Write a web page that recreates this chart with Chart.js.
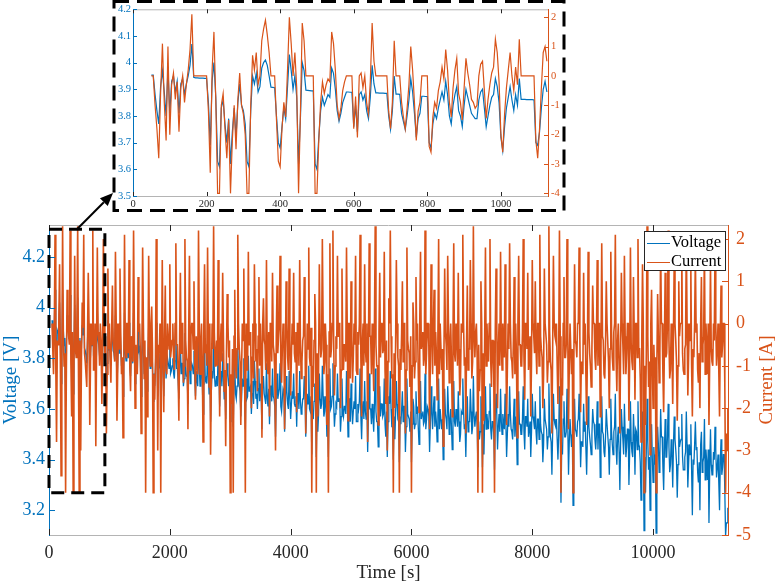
<!DOCTYPE html>
<html>
<head>
<meta charset="utf-8">
<script src="https://cdn.jsdelivr.net/npm/chart.js@4.4.0/dist/chart.umd.min.js"></script>
<style>
  html, body { margin: 0; padding: 0; background: #fff; }
  #wrap { position: relative; width: 778px; height: 585px; }
  #main { position: absolute; left: 0; top: 0; }
  #inset { position: absolute; left: 105px; top: 0; }
</style>
</head>
<body>
<div id="wrap">
  <canvas id="main" width="778" height="585"></canvas>
  <canvas id="inset" width="470" height="215"></canvas>
</div>
<script>
// full test: samples every 25 s from 50 s, plus the samples half way between them
const mainStart = 50, mainStep = 25;
const mainCurrent = [
  0,-1.2,2.1,-2.8,-0.5,1.4,-3.6,2.3,-1.0,-4.0,0.8,-0.3,2.2,-2.2,-4.0,1.6,-0.8,2.3,-4.0,-3.0,0.5,2.1,-0.9,-1.5,1.2,-2.4,0,2.2,-1.1,-2.9,1.8,-0.4,0,-1.9,2.0,-0.7,-2.6,1.3,0,-1.4,
  0.9,-0.6,1.7,-2.3,0,1.3,-1.2,-2.7,2.1,-0.8,0,1.5,-1.6,-0.4,2.2,-2.0,-0.9,1.1,0,-2.6,1.8,-1.3,-4.0,-2.2,1.6,-1.0,0.4,-4.0,-1.8,2.0,-3.0,-0.7,-4.0,1.5,-2.1,0.9,-1.2,-0.3,1.4,-0.6,
  0,-1.1,1.9,-0.5,-2.3,1.2,0,-1.4,2.0,-0.8,-2.5,1.6,-0.3,0,1.0,-1.8,-0.9,2.2,-1.2,0,-2.8,1.4,-0.6,1.8,-1.5,-3.1,0,2.3,-1.0,-0.4,1.5,-2.2,0,1.2,-1.6,-2.9,0.7,-0.8,-4.0,-1.9,
  -4.0,0.8,-1.3,2.1,-0.6,-2.4,0,1.3,-4.0,-1.1,1.7,-0.4,-2.0,0,1.4,-0.9,-1.6,1.1,0,-2.7,0.6,-0.5,1.5,-1.2,-2.2,0,1.2,-0.7,-3.0,0.9,-0.3,1.6,-1.4,0,-2.5,1.0,-0.8,1.3,-1.7,0,
  1.2,-0.9,-2.1,0,1.5,-1.3,-0.4,1.1,-2.6,0,1.8,-1.0,-4.0,-1.5,0.7,-4.0,-2.2,1.4,-0.8,2.0,-1.2,0,-2.4,-4.0,1.9,-0.6,2.2,-1.7,-0.3,1.6,0,-2.0,1.3,-1.1,-0.5,1.8,-2.3,0,1.0,-1.4,
  0,1.6,-1.2,-0.5,2.1,-2.2,0,1.4,-0.9,-2.8,1.9,-0.3,0,-1.6,2.3,-1.0,-2.4,1.2,0,-0.7,1.7,-1.9,-3.0,0.6,2.2,-1.3,-4.0,-2.0,1.5,-0.8,-4.0,-1.1,1.0,0,-2.6,1.8,-0.6,-1.5,-4.0,0.5,
  -1.3,1.1,0,-2.1,1.7,-0.4,-1.0,2.2,-0.7,0,-2.5,1.4,-1.2,0.8,-0.2,-1.8,2.0,0,-1.1,-2.9,1.3,-0.5,1.6,-1.4,0,-2.2,1.9,-0.9,-0.3,1.2,-1.7,0,2.1,-1.0,-2.6,0.9,-0.6,1.5,-1.3,2.3,
  -0.8,0,-4.0,-1.6,1.0,-4.0,-2.3,1.8,0,-0.9,2.0,-1.5,-0.4,-4.0,1.3,-2.0,0,1.7,-1.1,-0.6,1.4,-2.4,0,1.9,-0.8,-1.3,1.1,0,-2.7,1.6,-0.5,-1.0,2.0,-1.8,0,1.2,-0.7,-2.2,1.5,-0.3,
  1.0,-1.2,0,2.1,-0.6,-2.0,1.3,0,-1.4,2.3,-0.9,-2.6,1.6,-0.3,0,-1.9,2.2,-4.0,-1.7,1.1,-0.8,2.0,-2.5,0,-1.2,-4.0,1.4,-0.5,0,1.8,-2.1,-1.0,1.2,0,-2.4,1.7,-0.7,-1.5,0.9,0,
  -1.1,1.5,0,-2.2,1.9,-0.4,-1.3,1.0,0,-2.0,1.7,-0.8,-0.2,2.1,-1.6,0,-2.6,1.2,-0.5,1.6,-1.2,0,-2.3,1.8,-0.9,1.1,-1.8,0,2.0,-0.6,-2.8,1.4,-4.0,-2.4,2.3,-1.5,-3.1,0.8,-2.0,-1.2,
  -4.0,0.7,-1.4,1.9,0,-2.1,1.2,-0.7,2.2,-1.3,0,-1.9,1.5,-0.4,-2.3,1.0,0,1.8,-1.1,-0.6,2.0,-1.7,0,1.3,-2.2,-0.8,1.6,0,-1.4,-2.0,1.1,-0.5,1.9,0,-1.2,-2.4,1.4,-0.9,0,1.7,
  -1.0,0,-2.2,0.9,-0.5,0,-4.0,-3.0
];
const mainCurrentMid = [
  -0.6,-0.2,-1.0,-0.4,0,-0.8,-1.2,-0.3,-0.7,-1.1,0,-0.5,-0.9,-0.2,-1.3,-0.6,0,-1.0,-0.4,-0.8,-0.1,-0.7,-1.2,-0.3,0,-0.9,-0.5,-1.1,0,-0.6,-0.2,-1.0,-0.4,-0.8,0,-0.3,-1.2,-0.6,-0.9,-0.1,
  -0.4,-0.9,0,-1.1,-0.6,-0.2,-0.8,-1.3,-0.5,0,-0.7,-1.0,-0.3,-0.9,0,-0.5,-1.2,-0.2,-0.7,-1.0,0,-0.4,-0.8,-1.1,-0.3,0,-0.6,-1.2,-0.9,-0.2,-0.5,0,-1.0,-0.7,-0.3,-1.1,0,-0.6,-0.8,-0.4,
  -0.8,0,-0.5,-1.2,-0.3,-0.7,0,-1.0,-0.4,-0.9,-0.2,-1.1,0,-0.6,-0.8,-0.3,-1.2,0,-0.5,-0.9,-0.1,-0.7,-1.0,-0.4,0,-1.3,-0.6,-0.2,-0.8,-1.0,0,-0.5,-0.9,-0.3,-1.1,-0.7,0,-0.4,-1.2,-0.6,
  -0.3,-1.0,-0.6,0,-0.9,-1.2,-0.4,-0.7,0,-1.1,-0.5,-0.2,-0.8,-1.3,0,-0.6,-0.3,-1.0,-0.7,0,-0.4,-1.1,-0.8,-0.2,0,-0.9,-0.5,-1.2,-0.3,-0.7,0,-1.0,-0.6,-0.2,-0.9,0,-1.1,-0.4,-0.8,-0.5,
  -0.7,-0.2,0,-1.0,-0.5,-0.9,-0.3,0,-1.2,-0.6,-0.8,-0.1,-1.0,-0.4,0,-0.7,-1.1,-0.3,-0.6,0,-0.9,-0.5,-1.2,-0.2,-0.8,0,-0.4,-1.0,-0.6,-0.3,0,-1.1,-0.7,-0.5,-0.9,-0.2,0,-1.3,-0.4,-0.8,
  -0.5,-1.1,-0.2,0,-0.8,-0.4,-1.0,-0.6,0,-0.9,-0.3,-1.2,-0.7,0,-0.5,-1.0,-0.2,-0.8,0,-0.6,-1.1,-0.4,-0.9,0,-0.3,-1.2,-0.7,-0.5,0,-1.0,-0.6,-0.2,-0.9,0,-1.1,-0.4,-0.7,-0.3,-1.0,0,
  -0.9,-0.4,-1.1,0,-0.6,-0.2,-0.8,-1.2,0,-0.5,-0.9,-0.3,0,-1.0,-0.7,-0.4,-1.2,0,-0.6,-0.8,-0.2,-1.1,0,-0.5,-0.9,-0.3,-0.7,0,-1.0,-0.6,-1.3,-0.2,0,-0.8,-0.4,-1.1,-0.6,0,-0.9,-0.3,
  -0.2,-0.8,-0.5,-1.1,0,-0.7,-0.3,-1.0,-0.6,0,-0.9,-0.4,-1.2,-0.2,0,-0.7,-1.0,-0.5,0,-0.8,-0.3,-1.1,-0.6,0,-0.9,-0.4,-1.2,-0.7,0,-0.5,-1.0,-0.2,-0.8,0,-0.6,-1.1,-0.3,-0.9,0,-0.7,
  -0.6,0,-1.0,-0.3,-0.8,-1.2,0,-0.5,-0.9,-0.2,-1.1,-0.6,0,-0.4,-1.0,-0.7,-0.3,-1.3,0,-0.8,-0.5,-0.2,-1.0,0,-0.6,-1.1,-0.4,-0.8,0,-0.3,-0.9,-1.2,-0.5,0,-0.7,-0.2,-1.0,-0.6,0,-0.8,
  -0.4,-1.0,0,-0.7,-0.3,-1.2,-0.5,0,-0.9,-0.6,-0.2,-1.1,0,-0.8,-0.4,-1.0,-0.6,0,-1.2,-0.3,-0.7,0,-0.9,-0.5,-1.1,-0.2,0,-0.8,-0.6,-1.3,-0.4,0,-1.0,-0.7,-0.3,-0.9,0,-1.1,-0.5,-0.8,
  -1.0,-0.3,-0.7,0,-1.2,-0.5,-0.8,0,-0.4,-1.1,-0.6,-0.2,0,-0.9,-1.0,-0.3,0,-0.7,-1.2,-0.5,0,-0.8,-0.4,-1.0,-0.6,0,-0.2,-1.1,-0.7,0,-0.9,-0.3,-1.2,-0.5,0,-0.8,-0.6,-1.0,-0.4,0,
  -0.6,-1.1,-0.3,-0.8,0,-1.5,-2.6,-2.0
];
const mainVoltage = [
  3.95,3.86,4.07,3.74,3.90,4.02,3.70,4.07,3.85,3.66,3.97,3.90,4.05,3.75,3.66,4.01,3.85,4.04,3.65,3.71,3.93,4.02,3.83,3.78,3.96,3.71,3.89,4.02,3.80,3.70,3.99,3.85,3.88,3.74,4.00,3.83,3.68,3.95,3.87,3.77,
  3.92,3.82,3.97,3.69,3.86,3.94,3.77,3.65,3.98,3.79,3.85,3.94,3.73,3.82,3.98,3.70,3.78,3.91,3.84,3.65,3.95,3.74,3.64,3.67,3.93,3.76,3.85,3.63,3.69,3.94,3.65,3.76,3.62,3.90,3.65,3.86,3.72,3.78,3.88,3.75,
  3.80,3.72,3.91,3.76,3.64,3.86,3.78,3.69,3.90,3.73,3.62,3.87,3.76,3.77,3.83,3.65,3.71,3.90,3.69,3.76,3.58,3.85,3.72,3.87,3.66,3.55,3.75,3.89,3.69,3.73,3.84,3.61,3.75,3.82,3.64,3.56,3.78,3.69,3.55,3.62,
  3.53,3.78,3.64,3.85,3.69,3.57,3.72,3.80,3.52,3.64,3.81,3.68,3.58,3.71,3.79,3.64,3.60,3.76,3.70,3.52,3.73,3.66,3.78,3.61,3.54,3.69,3.76,3.64,3.49,3.74,3.66,3.78,3.59,3.68,3.51,3.73,3.62,3.75,3.56,3.67,
  3.74,3.61,3.53,3.66,3.75,3.58,3.64,3.73,3.49,3.66,3.77,3.59,3.42,3.56,3.70,3.41,3.51,3.74,3.60,3.77,3.57,3.65,3.49,3.41,3.76,3.61,3.78,3.53,3.62,3.74,3.64,3.51,3.72,3.57,3.61,3.75,3.49,3.64,3.70,3.54,
  3.63,3.73,3.55,3.60,3.76,3.48,3.63,3.71,3.56,3.43,3.74,3.60,3.62,3.51,3.76,3.55,3.45,3.69,3.62,3.57,3.72,3.49,3.41,3.65,3.75,3.53,3.40,3.48,3.71,3.56,3.39,3.54,3.67,3.61,3.43,3.72,3.57,3.51,3.39,3.64,
  3.52,3.67,3.61,3.46,3.71,3.58,3.54,3.74,3.56,3.60,3.43,3.69,3.52,3.65,3.59,3.47,3.72,3.60,3.52,3.40,3.68,3.56,3.69,3.50,3.60,3.44,3.71,3.53,3.57,3.67,3.47,3.59,3.72,3.52,3.41,3.65,3.55,3.68,3.50,3.73,
  3.53,3.59,3.37,3.48,3.65,3.37,3.42,3.69,3.58,3.52,3.70,3.48,3.55,3.36,3.66,3.44,3.58,3.68,3.50,3.54,3.66,3.41,3.58,3.69,3.52,3.48,3.64,3.57,3.38,3.67,3.54,3.50,3.69,3.44,3.57,3.64,3.52,3.41,3.66,3.55,
  3.63,3.46,3.56,3.69,3.51,3.39,3.64,3.56,3.44,3.70,3.49,3.34,3.66,3.54,3.56,3.40,3.69,3.23,3.42,3.63,3.49,3.68,3.34,3.56,3.45,3.22,3.64,3.51,3.55,3.66,3.37,3.47,3.62,3.55,3.34,3.65,3.49,3.42,3.60,3.54,
  3.44,3.63,3.54,3.33,3.65,3.50,3.41,3.60,3.54,3.34,3.64,3.46,3.51,3.66,3.38,3.53,3.28,3.60,3.48,3.62,3.41,3.52,3.30,3.63,3.43,3.58,3.34,3.51,3.63,3.45,3.24,3.59,3.12,3.27,3.64,3.36,3.20,3.54,3.31,3.38,
  3.11,3.53,3.35,3.60,3.49,3.28,3.56,3.41,3.62,3.35,3.48,3.29,3.57,3.44,3.25,3.53,3.47,3.58,3.36,3.41,3.59,3.29,3.46,3.54,3.18,3.38,3.55,3.45,3.31,3.20,3.51,3.39,3.56,3.44,3.32,3.15,3.52,3.34,3.43,3.53,
  3.33,3.42,3.20,3.48,3.37,3.42,3.10,3.15
];
const mainVoltageMid = [
  3.90,3.93,3.87,3.91,3.94,3.87,3.84,3.91,3.88,3.85,3.92,3.88,3.85,3.90,3.82,3.86,3.91,3.83,3.88,3.85,3.89,3.84,3.81,3.87,3.90,3.82,3.85,3.81,3.89,3.84,3.87,3.81,3.85,3.82,3.88,3.85,3.78,3.83,3.81,3.87,
  3.83,3.79,3.86,3.78,3.82,3.84,3.79,3.76,3.82,3.85,3.80,3.77,3.83,3.78,3.85,3.81,3.75,3.83,3.79,3.77,3.84,3.81,3.78,3.76,3.82,3.83,3.78,3.74,3.76,3.81,3.78,3.82,3.74,3.76,3.79,3.72,3.80,3.76,3.74,3.77,
  3.74,3.79,3.76,3.71,3.77,3.74,3.78,3.72,3.76,3.73,3.76,3.70,3.78,3.74,3.72,3.75,3.69,3.77,3.74,3.71,3.75,3.71,3.70,3.73,3.76,3.67,3.72,3.74,3.70,3.69,3.75,3.72,3.69,3.73,3.68,3.70,3.74,3.72,3.66,3.70,
  3.71,3.66,3.69,3.73,3.67,3.64,3.69,3.67,3.72,3.65,3.67,3.69,3.66,3.62,3.71,3.66,3.68,3.63,3.65,3.70,3.66,3.62,3.64,3.68,3.69,3.63,3.65,3.61,3.66,3.64,3.68,3.61,3.64,3.67,3.62,3.67,3.60,3.65,3.62,3.64,
  3.62,3.65,3.66,3.60,3.63,3.60,3.64,3.66,3.59,3.62,3.60,3.65,3.59,3.63,3.66,3.61,3.58,3.64,3.62,3.65,3.59,3.61,3.57,3.63,3.60,3.65,3.62,3.58,3.61,3.63,3.64,3.57,3.59,3.61,3.58,3.63,3.64,3.55,3.61,3.59,
  3.60,3.55,3.62,3.63,3.57,3.60,3.56,3.59,3.63,3.57,3.60,3.54,3.57,3.62,3.59,3.55,3.61,3.57,3.62,3.58,3.54,3.59,3.55,3.62,3.60,3.53,3.57,3.58,3.62,3.55,3.57,3.60,3.55,3.61,3.53,3.58,3.56,3.59,3.54,3.61,
  3.54,3.58,3.53,3.61,3.56,3.59,3.55,3.52,3.61,3.57,3.54,3.58,3.60,3.53,3.55,3.57,3.52,3.60,3.56,3.54,3.58,3.52,3.60,3.56,3.53,3.57,3.55,3.60,3.53,3.55,3.50,3.58,3.59,3.54,3.56,3.51,3.55,3.59,3.53,3.57,
  3.57,3.53,3.55,3.51,3.59,3.54,3.57,3.52,3.54,3.59,3.52,3.55,3.50,3.57,3.58,3.53,3.51,3.55,3.58,3.52,3.55,3.50,3.53,3.58,3.51,3.55,3.49,3.53,3.58,3.54,3.50,3.56,3.51,3.57,3.53,3.49,3.55,3.51,3.57,3.52,
  3.51,3.56,3.48,3.54,3.50,3.46,3.56,3.52,3.49,3.55,3.47,3.51,3.56,3.53,3.48,3.50,3.54,3.45,3.56,3.49,3.51,3.54,3.47,3.56,3.50,3.46,3.52,3.49,3.56,3.53,3.47,3.45,3.51,3.55,3.49,3.53,3.46,3.50,3.55,3.48,
  3.50,3.44,3.54,3.47,3.51,3.43,3.49,3.54,3.45,3.48,3.51,3.42,3.53,3.45,3.49,3.43,3.47,3.53,3.42,3.50,3.45,3.52,3.43,3.47,3.41,3.50,3.52,3.44,3.46,3.39,3.46,3.50,3.41,3.43,3.47,3.41,3.50,3.40,3.45,3.42,
  3.39,3.46,3.42,3.49,3.37,3.44,3.41,3.49,3.45,3.38,3.42,3.46,3.48,3.39,3.38,3.45,3.48,3.41,3.36,3.43,3.46,3.38,3.42,3.36,3.40,3.46,3.44,3.35,3.39,3.46,3.35,3.41,3.32,3.39,3.44,3.36,3.38,3.34,3.40,3.44,
  3.37,3.31,3.39,3.34,3.42,3.27,3.15,3.21
];

// first part of the test, one sample every 5 s from 50 s
const insetStart = 50, insetStep = 5;
const insetCurrent = [
  0,0,-1.0,-1.8,-2.8,-0.6,1.1,-0.9,-2.2,1.0,-2.0,-0.3,0.1,-0.8,-0.2,-1.9,-0.4,0,-0.9,-0.3,
  0.2,0.9,2.1,0,0,0,0,0,0,0,0,-1.2,-3.3,0.2,1.5,-0.8,-4.0,-4.0,-1.0,-0.6,
  -1.8,-2.8,-1.5,-4.0,-2.2,-1.0,-2.5,-0.8,0.1,-1.0,-1.3,-2.0,-4.0,-4.0,-1.0,0.7,0.2,0.8,-0.3,0,
  1.2,1.6,1.9,1.4,0.8,0,0,0,-1.5,-2.9,-3.1,-1.8,-0.9,-1.4,0.2,2.0,1.1,0,0.8,-0.4,
  -4.0,-1.3,1.8,1.2,0,0,0,0,0,-4.0,-4.0,-2.2,-0.9,-0.2,-0.6,-0.3,-0.1,-0.2,1.5,1.1,
  0.2,-1.0,-1.45,-1.1,-0.5,-0.2,0,0,0,0,-1.8,-0.7,-2.1,0,0.1,-0.4,0,-0.9,-1.3,-0.2,
  1.8,0.5,0,0,0,0,0,0,0,-1.2,-1.8,-0.9,1.2,0,0,0,-0.9,-1.4,-1.8,-1.1,
  -0.3,1.0,0.2,-0.9,-2.2,-1.2,-0.9,0,0,0,0,-2.4,-2.6,-1.4,-0.9,-1.1,-0.5,-0.2,0.3,-0.1,
  0.9,0.2,-0.9,-1.4,-0.4,0.2,0.6,-0.6,-0.9,-1.5,-0.4,0.6,0.1,-0.3,-0.8,-0.9,-1.1,-1.0,0,0.4,
  0.5,-0.5,-1.45,-0.8,-0.3,0.1,0.3,1.25,0.8,-0.2,-2.0,-2.6,-1.3,-0.4,0.2,0.8,0,-0.5,0.3,-0.3,
  1.25,0,0,0,0,0,0,0,0,-2.2,-2.8,-1.8,-0.4,0.8,1.0,0.5
];
const insetVoltage = [
  3.953,3.953,3.88,3.82,3.77,3.91,3.97,3.89,3.80,3.98,3.81,3.93,3.95,3.89,3.93,3.81,3.92,3.94,3.88,3.92,
  3.95,3.99,4.07,3.945,3.943,3.943,3.942,3.942,3.942,3.941,3.941,3.85,3.69,3.93,4.0,3.87,3.63,3.61,3.83,3.86,
  3.77,3.70,3.79,3.62,3.74,3.83,3.72,3.85,3.92,3.84,3.82,3.77,3.63,3.61,3.82,3.95,3.92,3.96,3.89,3.91,
  3.98,4.0,4.01,3.99,3.95,3.908,3.907,3.906,3.80,3.70,3.68,3.76,3.83,3.79,3.91,4.03,3.97,3.90,3.95,3.87,
  3.62,3.79,4.0,3.97,3.897,3.896,3.895,3.894,3.894,3.62,3.60,3.72,3.82,3.87,3.84,3.86,3.88,3.87,3.98,3.96,
  3.90,3.82,3.78,3.81,3.85,3.87,3.890,3.890,3.889,3.889,3.76,3.84,3.74,3.88,3.89,3.86,3.88,3.82,3.79,3.87,
  3.99,3.92,3.887,3.887,3.886,3.886,3.886,3.885,3.885,3.80,3.75,3.82,3.95,3.882,3.882,3.881,3.81,3.78,3.75,3.80,
  3.86,3.94,3.89,3.81,3.72,3.79,3.81,3.874,3.874,3.873,3.873,3.70,3.68,3.77,3.81,3.79,3.83,3.86,3.89,3.86,
  3.93,3.88,3.80,3.77,3.84,3.88,3.91,3.82,3.80,3.76,3.84,3.90,3.87,3.84,3.81,3.80,3.79,3.79,3.86,3.89,
  3.90,3.83,3.76,3.80,3.84,3.87,3.88,3.94,3.91,3.85,3.72,3.67,3.76,3.83,3.87,3.91,3.86,3.82,3.88,3.84,
  3.94,3.862,3.862,3.862,3.861,3.861,3.861,3.861,3.860,3.70,3.69,3.74,3.83,3.90,3.93,3.89
];

const timeTicks = [0, 2000, 4000, 6000, 8000, 10000];
const voltTicks = [3.2, 3.4, 3.6, 3.8, 4, 4.2];
const currTicks = [-5, -4, -3, -2, -1, 0, 1, 2];
const insetTimeTicks = [0, 200, 400, 600, 800, 1000];
const insetVoltTicks = [3.5, 3.6, 3.7, 3.8, 3.9, 4, 4.1, 4.2];
const insetCurrTicks = [-4, -3, -2, -1, 0, 1, 2];

// window of the main plot that the inset enlarges (time, current units)
const zoomTime = [0, 925];
const zoomCurr = [-4.0, 2.23];

const BLUE = '#0072BD';
const ORANGE = '#D95319';
const DARK = '#262626';
const FRAME = '#b4b4b4';
const SERIF = "'Liberation Serif', 'Times New Roman', serif";

function toPoints(values, start, step) {
    return values.map((v, i) => ({x: start + i * step, y: v}));
}

// merge the on-grid samples with the half-step samples
function mergeHalf(grid, mid, start, step) {
    const pts = [];
    grid.forEach((v, i) => {
        pts.push({x: start + i * step, y: v});
        if (i < mid.length) pts.push({x: start + i * step + step / 2, y: mid[i]});
    });
    return pts;
}

function fmt(v) {
    return String(Math.round(v * 100) / 100);
}

function xAxis(max, list, height, size, pad) {
    return {
        type: 'linear', min: 0, max: max,
        afterBuildTicks: s => { s.ticks = list.map(v => ({value: v})); },
        afterFit: s => { s.height = height; },
        grid: {display: false, drawTicks: false},
        border: {color: FRAME, width: 1},
        ticks: {color: DARK, font: {family: SERIF, size: size}, padding: pad,
                maxRotation: 0, autoSkip: false, callback: v => fmt(v)}
    };
}

function yAxis(side, min, max, list, width, color, size, pad) {
    return {
        type: 'linear', position: side, min: min, max: max,
        afterBuildTicks: s => { s.ticks = list.map(v => ({value: v})); },
        afterFit: s => { s.width = width; },
        grid: {display: false, drawTicks: false},
        border: {color: color, width: 1},
        ticks: {color: color, font: {family: SERIF, size: size}, padding: pad,
                autoSkip: false, callback: v => fmt(v)}
    };
}

// top edge of the box plus tick marks pointing inwards
function drawFrame(chart, tx, tl, tr, len) {
    const {ctx, chartArea: a} = chart;
    const sx = chart.scales.x, sl = chart.scales.yL, sr = chart.scales.yR;
    ctx.save();
    ctx.lineWidth = 1;
    ctx.strokeStyle = FRAME;
    ctx.beginPath();
    ctx.moveTo(a.left, a.top + 0.5);
    ctx.lineTo(a.right, a.top + 0.5);
    ctx.stroke();

    ctx.strokeStyle = DARK;
    ctx.beginPath();
    tx.forEach(v => {
        const x = Math.round(sx.getPixelForValue(v)) + 0.5;
        ctx.moveTo(x, a.bottom); ctx.lineTo(x, a.bottom - len);
        ctx.moveTo(x, a.top); ctx.lineTo(x, a.top + len);
    });
    ctx.stroke();

    ctx.strokeStyle = BLUE;
    ctx.beginPath();
    tl.forEach(v => {
        const y = Math.round(sl.getPixelForValue(v)) + 0.5;
        ctx.moveTo(a.left, y); ctx.lineTo(a.left + len, y);
    });
    ctx.stroke();

    ctx.strokeStyle = ORANGE;
    ctx.beginPath();
    tr.forEach(v => {
        const y = Math.round(sr.getPixelForValue(v)) + 0.5;
        ctx.moveTo(a.right, y); ctx.lineTo(a.right - len, y);
    });
    ctx.stroke();
    ctx.restore();
}

function dashedRect(ctx, x0, y0, x1, y1, dash) {
    ctx.save();
    ctx.strokeStyle = '#000';
    ctx.lineWidth = 3;
    ctx.setLineDash(dash);
    ctx.strokeRect(x0, y0, x1 - x0, y1 - y0);
    ctx.restore();
}

function drawArrow(ctx, x0, y0, x1, y1) {
    const ang = Math.atan2(y1 - y0, x1 - x0);
    const head = 13, half = 5.5;
    const bx = x1 - head * Math.cos(ang), by = y1 - head * Math.sin(ang);
    ctx.save();
    ctx.strokeStyle = '#000';
    ctx.fillStyle = '#000';
    ctx.lineWidth = 2;
    ctx.beginPath();
    ctx.moveTo(x0, y0);
    ctx.lineTo(bx, by);
    ctx.stroke();
    ctx.beginPath();
    ctx.moveTo(x1, y1);
    ctx.lineTo(bx + half * Math.sin(ang), by - half * Math.cos(ang));
    ctx.lineTo(bx - half * Math.sin(ang), by + half * Math.cos(ang));
    ctx.closePath();
    ctx.fill();
    ctx.restore();
}

function drawLegend(chart) {
    const ctx = chart.ctx;
    const x = 644, y = 231, w = 81, h = 39;
    const items = [
        {label: chart.data.datasets[1].label, color: BLUE},
        {label: chart.data.datasets[0].label, color: ORANGE}
    ];
    ctx.save();
    ctx.fillStyle = '#fff';
    ctx.fillRect(x, y, w, h);
    ctx.strokeStyle = DARK;
    ctx.lineWidth = 1;
    ctx.strokeRect(x + 0.5, y + 0.5, w, h);
    ctx.font = '16.5px ' + SERIF;
    ctx.textBaseline = 'middle';
    items.forEach((it, i) => {
        const ly = y + 12 + i * 19;
        ctx.strokeStyle = it.color;
        ctx.beginPath();
        ctx.moveTo(x + 3, ly + 0.5);
        ctx.lineTo(x + 26, ly + 0.5);
        ctx.stroke();
        ctx.fillStyle = '#000';
        ctx.fillText(it.label, x + 27, ly);
    });
    ctx.restore();
}

function drawTitles(chart) {
    const {ctx, chartArea: a} = chart;
    const midY = (a.top + a.bottom) / 2;
    ctx.save();
    ctx.font = '19px ' + SERIF;
    ctx.textAlign = 'center';
    ctx.textBaseline = 'middle';
    ctx.fillStyle = DARK;
    ctx.fillText('Time [s]', (a.left + a.right) / 2, 573);
    ctx.fillStyle = BLUE;
    ctx.translate(11, midY);
    ctx.rotate(-Math.PI / 2);
    ctx.fillText('Voltage [V]', 0, 0);
    ctx.restore();
    ctx.save();
    ctx.font = '19px ' + SERIF;
    ctx.textAlign = 'center';
    ctx.textBaseline = 'middle';
    ctx.fillStyle = ORANGE;
    ctx.translate(767, midY);
    ctx.rotate(-Math.PI / 2);
    ctx.fillText('Current [A]', 0, 0);
    ctx.restore();
}

const mainDecor = {
    id: 'mainDecor',
    afterDraw(chart) {
        const sx = chart.scales.x, sr = chart.scales.yR;
        drawFrame(chart, timeTicks, voltTicks, currTicks, 6);
        const bx0 = sx.getPixelForValue(zoomTime[0]), bx1 = sx.getPixelForValue(zoomTime[1]);
        const by0 = sr.getPixelForValue(zoomCurr[1]), by1 = sr.getPixelForValue(zoomCurr[0]);
        dashedRect(chart.ctx, bx0, by0, bx1, by1, [13, 7]);
        drawArrow(chart.ctx, (bx0 + bx1) / 2, by0, 113, 193);
        drawLegend(chart);
        drawTitles(chart);
    }
};

const insetDecor = {
    id: 'insetDecor',
    afterDraw(chart) {
        drawFrame(chart, insetTimeTicks, insetVoltTicks, insetCurrTicks, 4);
        dashedRect(chart.ctx, 9, 1.5, 459, 210.5, [15, 8]);
    }
};

const common = {
    responsive: false,
    animation: false,
    devicePixelRatio: 1,
    events: [],
    plugins: {legend: {display: false}, tooltip: {enabled: false}}
};

new Chart(document.getElementById('main'), {
    type: 'line',
    data: {
        datasets: [
            {label: 'Current', data: mergeHalf(mainCurrent, mainCurrentMid, mainStart, mainStep), yAxisID: 'yR',
             borderColor: ORANGE, borderWidth: 1.6, pointRadius: 0, tension: 0, order: 1},
            {label: 'Voltage', data: mergeHalf(mainVoltage, mainVoltageMid, mainStart, mainStep), yAxisID: 'yL',
             borderColor: BLUE, borderWidth: 1.3, pointRadius: 0, tension: 0, order: 2}
        ]
    },
    options: Object.assign({}, common, {
        layout: {padding: {top: 225, left: 0, right: 0, bottom: 0}},
        scales: {
            x: xAxis(11240, timeTicks, 50, 18, 7),
            yL: yAxis('left', 3.1025, 4.326, voltTicks, 49, BLUE, 18, 4),
            yR: yAxis('right', -5, 2.33, currTicks, 50, ORANGE, 18, 8)
        }
    }),
    plugins: [mainDecor]
});

new Chart(document.getElementById('inset'), {
    type: 'line',
    data: {
        datasets: [
            {label: 'Current', data: toPoints(insetCurrent, insetStart, insetStep), yAxisID: 'yR',
             borderColor: ORANGE, borderWidth: 1.2, pointRadius: 0, tension: 0, order: 1},
            {label: 'Voltage', data: toPoints(insetVoltage, insetStart, insetStep), yAxisID: 'yL',
             borderColor: BLUE, borderWidth: 1.2, pointRadius: 0, tension: 0, order: 2}
        ]
    },
    options: Object.assign({}, common, {
        layout: {padding: {top: 7, left: 0, right: 0, bottom: 0}},
        scales: {
            x: xAxis(1128, insetTimeTicks, 19, 10.5, 2),
            yL: yAxis('left', 3.5, 4.2, insetVoltTicks, 28, BLUE, 10.5, 2),
            yR: yAxis('right', -4.09, 2.27, insetCurrTicks, 27, ORANGE, 10.5, 3)
        }
    }),
    plugins: [insetDecor]
});
</script>
</body>
</html>
